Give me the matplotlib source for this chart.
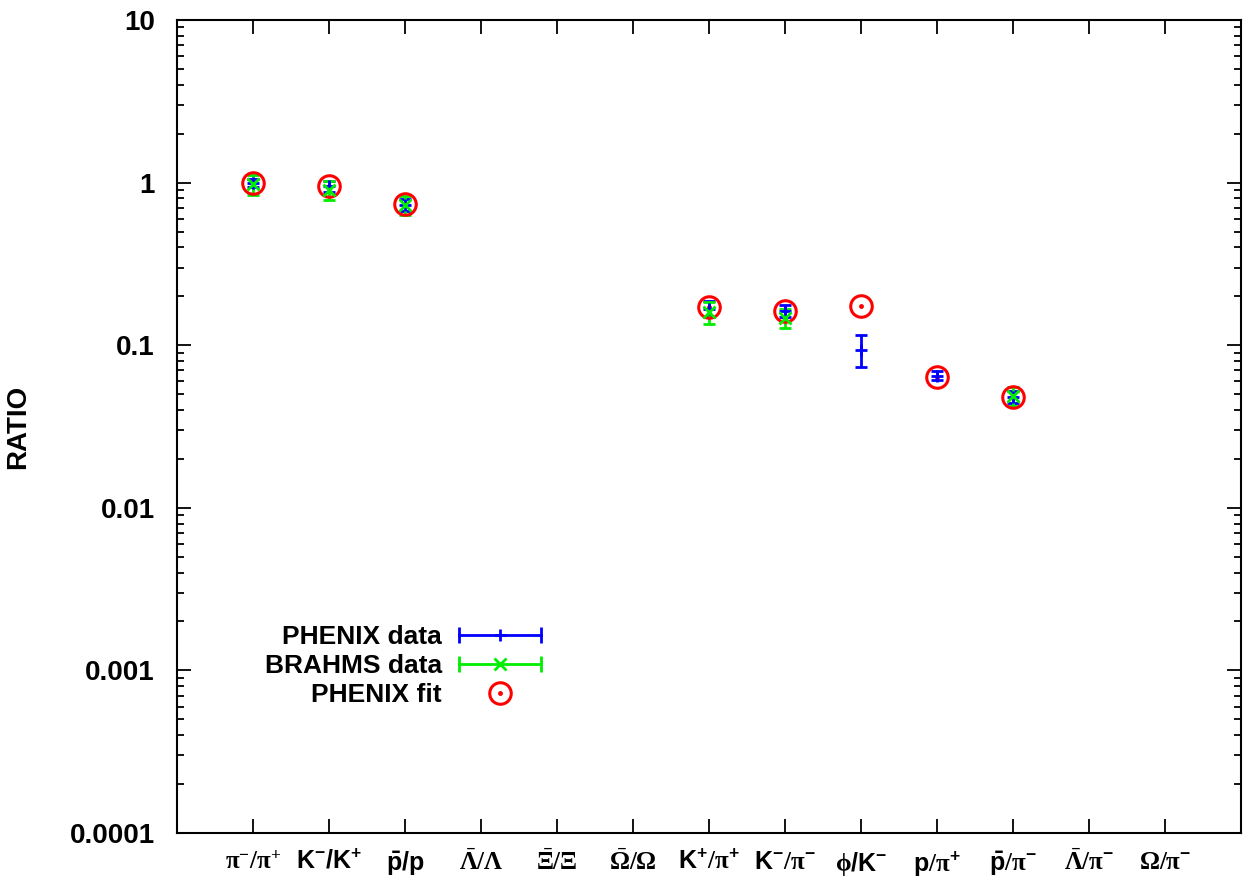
import numpy as np
import matplotlib
matplotlib.use("Agg")
import matplotlib.pyplot as plt
from matplotlib.ticker import LogLocator, NullFormatter, FixedLocator
from matplotlib.legend_handler import HandlerBase
from matplotlib.lines import Line2D

plt.rcParams['font.family'] = ['Liberation Sans', 'DejaVu Sans']
plt.rcParams['font.weight'] = 'bold'
plt.rcParams['mathtext.fontset'] = 'custom'
plt.rcParams['mathtext.rm'] = 'Liberation Sans:bold'
plt.rcParams['mathtext.bf'] = 'Liberation Sans:bold'
plt.rcParams['mathtext.sf'] = 'Liberation Serif'
plt.rcParams['mathtext.default'] = 'rm'

# categories (tick labels)
labels = [r'$\mathsf{\pi^{-}/\pi^{+}}$', r'$K^{-}/K^{+}$', r'$\bar{p}/p$',
          r'$\mathsf{\bar{\Lambda}/\Lambda}$', r'$\mathsf{\bar{\Xi}/\Xi}$', r'$\mathsf{\bar{\Omega}/\Omega}$',
          r'$K^{+}\mathsf{/\pi}^{+}$', r'$K^{-}\mathsf{/\pi}^{-}$', r'$\mathsf{\phi}/K^{-}$',
          r'$p\mathsf{/\pi}^{+}$', r'$\bar{p}\mathsf{/\pi}^{-}$', r'$\mathsf{\bar{\Lambda}/\pi}^{-}$',
          r'$\mathsf{\Omega/\pi}^{-}$']
nan = np.nan

# PHENIX data
phenix_val = [1.0, 0.95, 0.73, nan, nan, nan, 0.168, 0.163, 0.094, 0.065, 0.048, nan, nan]
phenix_err = [0.06, 0.07, 0.06, nan, nan, nan, 0.018, 0.014, 0.021, 0.004, 0.004, nan, nan]
# BRAHMS data
brahms_val = [0.98, 0.90, 0.73, nan, nan, nan, 0.160, 0.147, nan, nan, 0.049, nan, nan]
brahms_err = [0.14, 0.12, 0.10, nan, nan, nan, 0.024, 0.020, nan, nan, 0.0067, nan, nan]
# PHENIX fit
fit_val = [1.0, 0.95, 0.74, nan, nan, nan, 0.172, 0.162, 0.175, 0.064, 0.048, nan, nan]

x = np.arange(1, len(labels) + 1)


class ErrKey(Line2D):
    pass


class HErrHandler(HandlerBase):
    """gnuplot-style horizontal errorbar key"""
    def create_artists(self, legend, orig, xdescent, ydescent, width, height, fontsize, trans):
        y = height / 2 - ydescent
        x0, x1 = -xdescent, -xdescent + width
        c = orig.get_color()
        line = Line2D([x0, x1], [y, y], color=c, lw=2)
        caps = Line2D([x0, x1], [y, y], ls='none', marker='|', ms=11, mew=2, color=c)
        mk = Line2D([(x0 + x1) / 2], [y], ls='none', marker=orig.get_marker(),
                    ms=orig.get_markersize(), mew=2, color=c)
        for a in (line, caps, mk):
            a.set_transform(trans)
        return [line, caps, mk]


fig = plt.figure(figsize=(12.43, 8.94), dpi=100)
ax = fig.add_axes([0.1424, 0.0682, 0.856, 0.9094])

ax.errorbar(x, phenix_val, yerr=phenix_err, fmt='+', color='blue', ms=8, mew=2,
            elinewidth=2, capsize=4, capthick=2)
ax.errorbar(x, brahms_val, yerr=brahms_err, fmt='x', color='#00ee00', ms=8, mew=2,
            elinewidth=2, capsize=4.5, capthick=2)
c1, = ax.plot(x, fit_val, 'o', ms=15.5, mfc='none', mec='red', mew=2.2, ls='none')
c2, = ax.plot(x, fit_val, 'o', ms=2.5, color='red', ls='none')

ax.set_yscale('log')
ax.set_ylim(1e-4, 10)
ax.set_xlim(0, 14)
ax.xaxis.set_major_locator(FixedLocator(x))
ax.set_xticklabels(labels, fontsize=18)
ax.yaxis.set_minor_locator(LogLocator(base=10, subs=np.arange(2, 10), numticks=20))
ax.yaxis.set_minor_formatter(NullFormatter())
ax.set_yticks([1e-4, 1e-3, 1e-2, 1e-1, 1, 10])
ax.set_yticklabels(['0.0001', '0.001', '0.01', '0.1', '1', '10'], fontsize=20, fontweight='bold')
ax.tick_params(which='both', direction='in', top=True, right=True, width=1.3)
ax.tick_params(which='major', length=10)
ax.tick_params(which='minor', length=5)
ax.tick_params(axis='x', pad=12)
ax.tick_params(axis='y', pad=16)
for s in ax.spines.values():
    s.set_linewidth(1.5)
ax.set_ylabel('RATIO', fontsize=20, fontweight='bold', labelpad=28)

p_key = ErrKey([], [], color='blue', marker='+', ms=8)
b_key = ErrKey([], [], color='#00ee00', marker='x', ms=8)
ax.legend([p_key, b_key, (c1, c2)], ['PHENIX data', 'BRAHMS data', 'PHENIX fit'],
          handler_map={ErrKey: HErrHandler()},
          loc='upper right', bbox_to_anchor=(0.342, 0.256), frameon=False,
          markerfirst=False, handlelength=3.1, fontsize=19, labelspacing=0.2,
          handletextpad=0.65, borderpad=0, borderaxespad=0)

fig.savefig('out.png', dpi=100)
